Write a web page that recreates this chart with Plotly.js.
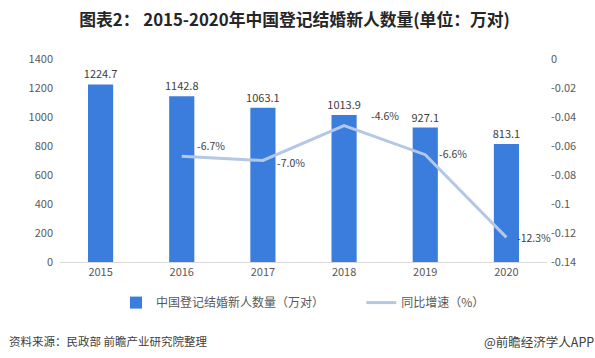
<!DOCTYPE html>
<html>
<head>
<meta charset="utf-8">
<script src="https://cdn.plot.ly/plotly-3.0.1.min.js"></script>
<style>
html,body{margin:0;padding:0;background:#fff;}
#chart{width:595px;height:358px;}
</style>
</head>
<body>
<div id="chart"></div>
<script>
const years = ['2015','2016','2017','2018','2019','2020'];
const marriages = [1224.7, 1142.8, 1063.1, 1013.9, 927.1, 813.1];
const growthYears = ['2016','2017','2018','2019','2020'];
const growth = [-0.067, -0.070, -0.046, -0.066, -0.123];
const growthLabels = ['-6.7%','-7.0%','-4.6%','-6.6%','-12.3%'];
const leftTicks = [0,200,400,600,800,1000,1200,1400];
const rightTicks = [0,-0.02,-0.04,-0.06,-0.08,-0.1,-0.12,-0.14];
const rightTickText = ['0','-0.02','-0.04','-0.06','-0.08','-0.1','-0.12','-0.14'];
const seriesNames = ['中国登记结婚新人数量（万对）', '同比增速（%）'];

const FONT = '"Noto Sans CJK SC", "Noto Sans", sans-serif';

// label offsets (pixels) for the growth-rate labels
const labelDx = [13, 12, 25, 12, 9];
const labelDy = [11, -2, 10, 1, 0];
const legendPad = '\u00a0'.repeat(12);

const traces = [
  {
    type: 'bar',
    name: seriesNames[0] + legendPad,
    x: years,
    y: marriages,
    marker: {color: '#3B7DDD'},
    text: marriages.map(v => v.toFixed(1)),
    textposition: 'outside',
    constraintext: 'none',
    cliponaxis: false,
    textfont: {size: 11, color: '#404040', family: FONT},
    hoverinfo: 'skip'
  },
  {
    type: 'scatter',
    mode: 'lines',
    name: seriesNames[1],
    x: growthYears,
    y: growth,
    yaxis: 'y2',
    line: {color: '#B4C8E6', width: 3},
    cliponaxis: false,
    hoverinfo: 'skip'
  }
];

const growthAnnotations = growthYears.map((yr, i) => ({
  text: growthLabels[i],
  xref: 'x', yref: 'y2',
  x: years.indexOf(yr), y: growth[i],
  xanchor: 'left', yanchor: 'middle',
  xshift: labelDx[i], yshift: labelDy[i],
  showarrow: false,
  font: {size: 10.5, color: '#404040', family: FONT}
}));

const layout = {
  width: 595,
  height: 358,
  margin: {l: 60, r: 48, t: 59, b: 96},
  paper_bgcolor: '#ffffff',
  plot_bgcolor: '#ffffff',
  font: {family: FONT, color: '#595959', size: 11},
  title: {
    text: '<b>图表2： 2015-2020年中国登记结婚新人数量(单位：万对)</b>',
    x: 0.495, xanchor: 'center',
    y: 0.945, yanchor: 'middle',
    font: {size: 16.8, color: '#262626', family: FONT}
  },
  bargap: 0.69,
  xaxis: {
    type: 'category',
    categoryorder: 'array',
    categoryarray: years,
    range: [-0.5, 5.5],
    showgrid: false,
    showline: true,
    linecolor: '#D9D9D9',
    linewidth: 1,
    ticks: '',
    tickfont: {size: 11, color: '#595959'},
    fixedrange: true
  },
  yaxis: {
    range: [0, 1400],
    tickvals: leftTicks,
    showgrid: false,
    zeroline: false,
    showline: false,
    ticks: '',
    ticklabelstandoff: 6,
    tickfont: {size: 11, color: '#595959'},
    fixedrange: true
  },
  yaxis2: {
    overlaying: 'y',
    side: 'right',
    range: [-0.14, 0],
    tickvals: rightTicks,
    ticktext: rightTickText,
    showgrid: false,
    zeroline: false,
    showline: false,
    ticks: '',
    ticklabelstandoff: 3,
    tickfont: {size: 11, color: '#595959'},
    fixedrange: true
  },
  showlegend: true,
  legend: {
    orientation: 'h',
    x: 0.115, xanchor: 'left',
    y: -0.2, yanchor: 'middle',
    font: {size: 12, color: '#595959'},
    itemwidth: 30,
    tracegroupgap: 0,
    traceorder: 'normal'
  },
  annotations: growthAnnotations.concat([
    {
      text: '资料来源：民政部 前瞻产业研究院整理',
      xref: 'paper', yref: 'paper',
      x: -0.108, xanchor: 'left',
      y: -0.39, yanchor: 'middle',
      showarrow: false,
      font: {size: 11.5, color: '#404040', family: FONT}
    },
    {
      text: '@前瞻经济学人APP',
      xref: 'paper', yref: 'paper',
      x: 1.1, xanchor: 'right',
      y: -0.39, yanchor: 'middle',
      showarrow: false,
      font: {size: 12.5, color: '#404040', family: FONT}
    }
  ])
};

Plotly.newPlot('chart', traces, layout, {displayModeBar: false, staticPlot: true});
</script>
</body>
</html>
